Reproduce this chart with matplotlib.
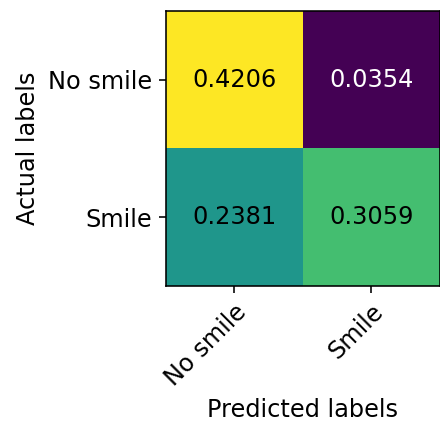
import numpy as np
import matplotlib.pyplot as plt

# normalised confusion matrix for the smile classifier
class_names = ['No smile', 'Smile']
cm = np.array([[0.4206, 0.0354],
               [0.2381, 0.3059]])

fig = plt.figure(figsize=(440 / 144, 423 / 144), dpi=144)
ax = fig.add_axes([0.377, 0.324, 0.623, 0.650])
ax.imshow(cm, cmap='viridis', interpolation='nearest')

thresh = cm.max() / 2.
for i in range(cm.shape[0]):
    for j in range(cm.shape[1]):
        ax.text(j, i, '%.4f' % cm[i, j], ha='center', va='center',
                fontsize=12, color='black' if cm[i, j] > thresh else 'white')

ax.set_xticks(range(len(class_names)))
ax.set_yticks(range(len(class_names)))
ax.set_xticklabels(class_names, rotation=45, ha='right', rotation_mode='anchor', fontsize=12)
ax.set_yticklabels(class_names, fontsize=12)
ax.set_xlabel('Predicted labels', fontsize=12)
ax.set_ylabel('Actual labels', fontsize=12)

fig.savefig('out.png', dpi=144)
